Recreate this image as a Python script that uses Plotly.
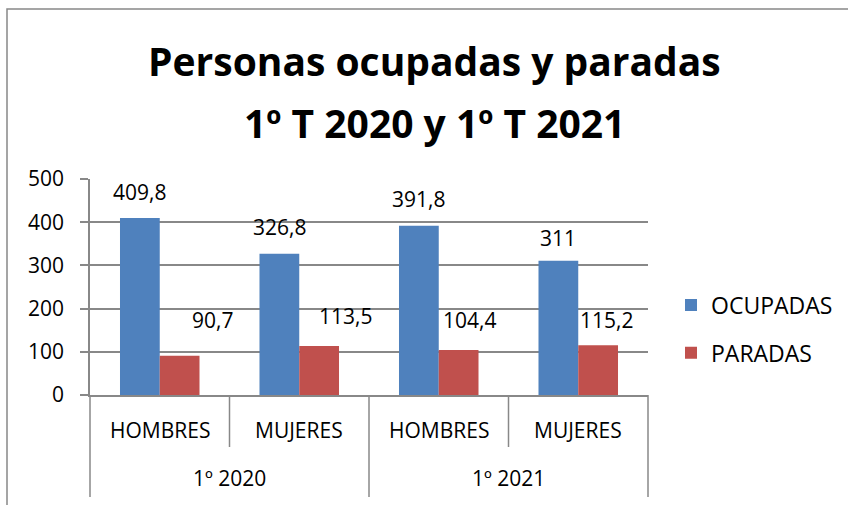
import plotly.graph_objects as go

periods = ["1º 2020", "1º 2020", "1º 2021", "1º 2021"]
sexes = ["HOMBRES", "MUJERES", "HOMBRES", "MUJERES"]
period_groups = ["1º 2020", "1º 2021"]
ocupadas = [409.8, 326.8, 391.8, 311]
paradas = [90.7, 113.5, 104.4, 115.2]
label_ocupadas = ["409,8", "326,8", "391,8", "311"]
label_paradas = ["90,7", "113,5", "104,4", "115,2"]
y_ticks = [0, 100, 200, 300, 400, 500]

# label placement tweaks (px)
ocu_xshift = [0, 0, 0, 0]
ocu_yshift = [26, 27, 27, 23]
par_xshift = [33, 26, 11, 8]
par_yshift = [36, 30, 30, 25]

BLUE = "#4F81BD"
RED = "#C0504D"
GRID = "#888888"
FONT = "Open Sans"
FS = 21

W, H = 848, 505
L, R, T, B = 90, 200, 179, 110
PW = W - L - R
PH = H - T - B


def py(px):
    return (H - B - px) / PH


def px_x(px):
    return (px - L) / PW


fig = go.Figure()
fig.add_trace(go.Bar(x=[periods, sexes], y=ocupadas, name="OCUPADAS",
                     marker=dict(color=BLUE, line=dict(width=0)),
                     legendgroup="a"))
fig.add_trace(go.Bar(x=[periods, sexes], y=paradas, name="PARADAS",
                     marker=dict(color=RED, line=dict(width=0)),
                     legendgroup="b"))

n = len(sexes)
bar_px = PW / n * (1 - 0.43) / 2
txt = dict(family=FONT, size=FS, color="#000")
annotations = []
for i in range(n):
    xc = (i + 0.5) / n
    annotations.append(dict(x=xc, xref="x domain", y=ocupadas[i], yref="y",
                            xanchor="center", yanchor="middle",
                            text=label_ocupadas[i], showarrow=False,
                            xshift=-bar_px / 2 + ocu_xshift[i], yshift=ocu_yshift[i],
                            font=txt))
    annotations.append(dict(x=xc, xref="x domain", y=paradas[i], yref="y",
                            xanchor="center", yanchor="middle",
                            text=label_paradas[i], showarrow=False,
                            xshift=bar_px / 2 + par_xshift[i], yshift=par_yshift[i],
                            font=txt))
    # inner category labels
    annotations.append(dict(x=xc, xref="x domain", y=py(430), yref="paper",
                            xanchor="center", yanchor="middle",
                            text=sexes[i], showarrow=False, font=txt))
for j, g in enumerate(period_groups):
    annotations.append(dict(x=(2 * j + 1) / n, xref="x domain", y=py(478), yref="paper",
                            xanchor="center", yanchor="middle",
                            text=g, showarrow=False, font=txt))

title_font = dict(family=FONT, size=39, color="#000")
annotations.append(dict(text="<b>Personas ocupadas y paradas</b>", xref="paper", yref="paper",
                        x=px_x(434), y=py(60), xanchor="center", yanchor="middle",
                        showarrow=False, font=title_font))
annotations.append(dict(text="<b>1º T 2020 y 1º T 2021</b>", xref="paper", yref="paper",
                        x=px_x(434), y=py(122), xanchor="center", yanchor="middle",
                        showarrow=False, font=title_font))

shapes = []
# chart border
shapes.append(dict(type="rect", xref="paper", yref="paper",
                   x0=px_x(7), x1=3, y0=-3, y1=py(9),
                   line=dict(color=GRID, width=1.5), fillcolor="rgba(0,0,0,0)", layer="below"))
# x-axis dividers
for i in range(n + 1):
    outer = (i % 2 == 0)
    bottom_px = 497 if outer else 447
    shapes.append(dict(type="line", xref="x domain", yref="paper",
                       x0=i / n, x1=i / n, y0=0, y1=py(bottom_px),
                       line=dict(color=GRID, width=1.5)))

fig.update_layout(
    width=W, height=H,
    margin=dict(l=L, r=R, t=T, b=B, autoexpand=False),
    paper_bgcolor="white", plot_bgcolor="white",
    barmode="group", bargap=0.43, bargroupgap=0,
    font=txt,
    showlegend=True,
    legend=dict(x=px_x(671), xanchor="left", y=py(329), yanchor="middle",
                font=dict(family=FONT, size=23, color="#000"),
                tracegroupgap=15, itemwidth=30),
    annotations=annotations,
    shapes=shapes,
)
fig.update_yaxes(range=[0, 500], tickvals=y_ticks, showgrid=True, gridcolor=GRID, gridwidth=1.5,
                 showline=True, linecolor=GRID, linewidth=1.5, ticks="outside", ticklen=8,
                 tickcolor=GRID, tickwidth=1.5, ticklabelstandoff=12, zeroline=False,
                 tickfont=txt)
fig.update_xaxes(type="multicategory", showdividers=False, showline=True, linecolor=GRID,
                 linewidth=1.5, ticks="", showticklabels=False)

fig.write_html("out.html", config={"displayModeBar": False},
               post_script="document.body.style.margin='0';")
